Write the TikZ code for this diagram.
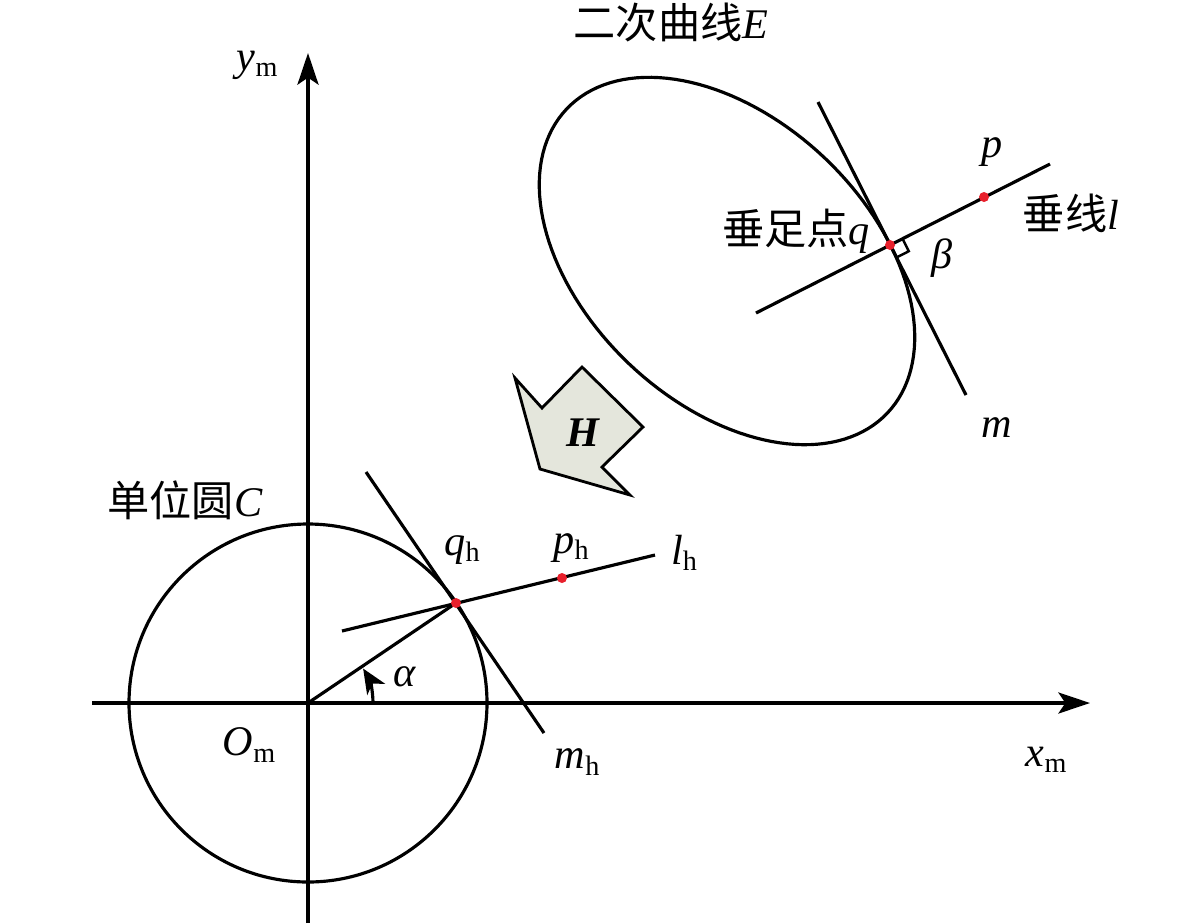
\documentclass[tikz,border=0pt]{standalone}
\usepackage{fontspec}
\setmainfont{Liberation Serif}
\newfontfamily\cjk{Noto Sans CJK SC}
\usetikzlibrary{arrows.meta}
\definecolor{dotred}{RGB}{232,32,44}
\definecolor{harrow}{RGB}{228,230,220}

\begin{document}
\begin{tikzpicture}[x=0.01cm, y=-0.01cm, line width=0.9pt,
  lbl/.style={font=\fontsize{12}{14}\selectfont, inner sep=0pt},
  dot/.style={circle, fill=dotred, inner sep=0pt, minimum size=0.1cm},
  axis/.style={-{Stealth[length=9pt, width=6pt, inset=2pt]}}]
\useasboundingbox (0,0) rectangle (1181,923);
% axes
\coordinate (O) at (308,703);
\coordinate (xs) at (92,703);
\coordinate (xe) at (1090,703);
\coordinate (ys) at (308,923);
\coordinate (ye) at (308,53);
\draw[axis] (xs) -- (xe);
\draw[axis] (ys) -- (ye);
\node[lbl] (xm) at (1047,760) {\textit{x}\textsubscript{m}};
\node[lbl] (ym) at (258,65) {\textit{y}\textsubscript{m}};
\node[lbl] (Om) at (250,745) {\textit{O}\textsubscript{m}};
% unit circle
\draw (O) circle[radius=179];
\node[lbl] (C) at (185,500) {{\cjk 单位圆}\textit{C}};
\coordinate (qh) at (456,603);
\coordinate (mh1) at (366,472);
\coordinate (mh2) at (544,733);
\coordinate (lh1) at (342,631);
\coordinate (lh2) at (655,555);
\coordinate (ph) at (562,578);
\draw (O) -- (qh);
\draw (mh1) -- (mh2);
\draw (lh1) -- (lh2);
\draw[-{Stealth[length=7pt, width=6pt, inset=2pt]}] (373,703) arc[start angle=0, end angle=-32, radius=65];
\node[lbl] (alpha) at (405,677) {\textit{α}};
\node[dot] (qhdot) at (qh) {};
\node[dot] (phdot) at (ph) {};
\node[lbl] (qhl) at (463,550) {\textit{q}\textsubscript{h}};
\node[lbl] (phl) at (572,548) {\textit{p}\textsubscript{h}};
\node[lbl] (lhl) at (685,553) {\textit{l}\textsubscript{h}};
\node[lbl] (mhl) at (578,762) {\textit{m}\textsubscript{h}};
% conic E
\draw plot[domain=0:360, samples=145]
  ({727+221*cos(\x)*cos(43.5)-142*sin(\x)*sin(43.5)}, {261+221*cos(\x)*sin(43.5)+142*sin(\x)*cos(43.5)});
\node[lbl] (E) at (671,22) {{\cjk 二次曲线}\textit{E}};
\coordinate (q) at (890,245);
\coordinate (m1) at (818,102);
\coordinate (m2) at (966,395);
\coordinate (l1) at (756,313);
\coordinate (l2) at (1050,164);
\coordinate (p) at (984,197);
\draw (m1) -- (m2);
\draw (l1) -- (l2);
% right angle
\draw[line width=0.7pt] (902.5,238.7) -- (908.8,251.2) -- (896.3,257.5);
\node[dot] (qdot) at (q) {};
\node[dot] (pdot) at (p) {};
\node[lbl] (ql) at (796,231) {{\cjk 垂足点}\textit{q}};
\node[lbl] (ll) at (1071,213) {{\cjk 垂线}\textit{l}};
\node[lbl] (pl) at (992,152) {\textit{p}};
\node[lbl] (ml) at (997,428) {\textit{m}};
\node[lbl] (beta) at (942,258) {\textit{β}};
% mapping H
\draw[fill=harrow, line width=0.8pt] (540,469) -- (515,378) -- (542,408) -- (582,367)
  -- (643,427) -- (602,467) -- (630,495) -- cycle;
\node[lbl] (H) at (583,433) {\textbf{\textit{H}}};
\end{tikzpicture}
\end{document}
